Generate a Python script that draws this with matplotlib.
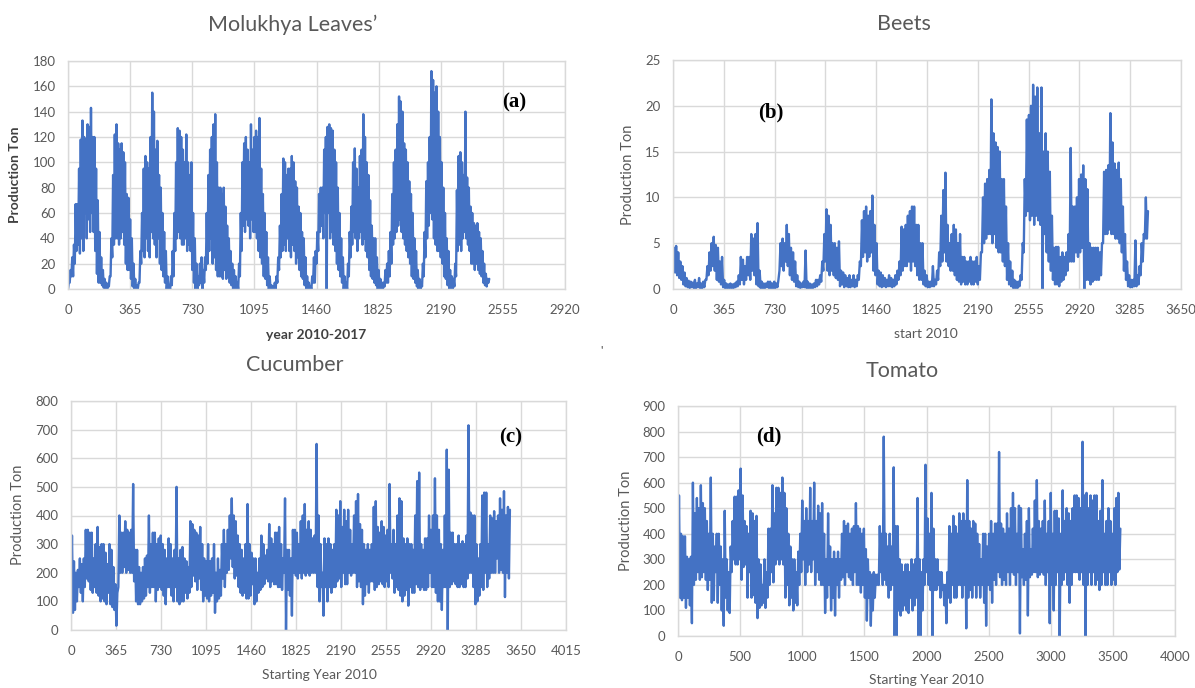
import numpy as np
import matplotlib
matplotlib.use("Agg")
import matplotlib.pyplot as plt

plt.rcParams['font.family'] = ['Lato', 'DejaVu Sans']

# ---------------- data ----------------
# Each daily series is given as local highs and lows, one pair per step (days).
# (a) Molukhya Leaves'
molukhya_step = 10
molukhya_hi = [
    5, 15, 25, 35, 67, 67, 95, 118, 133, 120,
    118, 130, 128, 143, 120, 120, 95, 70, 45, 25,
    15, 8, 5, 3, 10, 40, 90, 122, 130, 115,
    110, 115, 108, 100, 75, 72, 55, 40, 20, 8,
    3, 5, 30, 60, 95, 105, 100, 95, 120, 155,
    140, 110, 117, 90, 80, 60, 45, 30, 10, 3,
    10, 30, 60, 100, 127, 125, 120, 110, 100, 122,
    100, 90, 100, 60, 40, 20, 10, 20, 25, 15,
    25, 60, 90, 110, 120, 130, 138, 100, 80, 80,
    75, 80, 65, 50, 40, 30, 20, 15, 10, 5,
    20, 60, 100, 115, 120, 110, 100, 130, 110, 120,
    125, 120, 135, 95, 75, 60, 45, 25, 10, 3,
    2, 5, 10, 25, 50, 75, 103, 100, 90, 95,
    95, 105, 100, 85, 80, 65, 60, 45, 40, 25,
    10, 5, 2, 10, 25, 30, 45, 75, 80, 80,
    110, 120, 128, 130, 127, 125, 110, 100, 80, 60,
    40, 25, 10, 5, 20, 45, 65, 100, 111, 95,
    80, 105, 110, 138, 120, 100, 90, 70, 50, 40,
    40, 25, 15, 8, 5, 5, 15, 20, 30, 45,
    75, 100, 110, 130, 152, 148, 140, 115, 110, 100,
    85, 75, 60, 40, 30, 15, 8, 5, 20, 45,
    85, 100, 120, 172, 165, 155, 160, 140, 120, 100,
    80, 60, 40, 30, 15, 10, 8, 20, 78, 105,
    108, 100, 90, 140, 88, 80, 65, 60, 52, 50,
    52, 45, 40, 30, 20, 12, 8, 8,
]
molukhya_lo = [
    0, 5, 10, 10, 20, 30, 35, 28, 40, 30,
    60, 40, 55, 45, 60, 45, 30, 12, 5, 5,
    3, 1, 0, 0, 2, 10, 25, 35, 40, 40,
    35, 40, 45, 35, 20, 15, 15, 8, 2, 0,
    0, 0, 5, 20, 30, 25, 40, 30, 25, 45,
    40, 35, 25, 40, 20, 15, 10, 5, 0, 0,
    0, 3, 10, 30, 40, 45, 40, 35, 35, 40,
    30, 35, 30, 15, 5, 0, 0, 3, 5, 0,
    5, 15, 20, 30, 40, 20, 25, 15, 10, 10,
    10, 8, 15, 8, 10, 5, 3, 0, 0, 0,
    0, 10, 30, 50, 45, 55, 50, 40, 55, 45,
    45, 40, 30, 25, 20, 10, 8, 3, 0, 0,
    0, 0, 0, 5, 15, 25, 30, 35, 30, 40,
    30, 25, 35, 30, 20, 25, 15, 10, 8, 3,
    0, 0, 0, 0, 5, 5, 20, 30, 45, 50,
    40, 60, 0, 60, 40, 45, 35, 30, 20, 15,
    10, 5, 0, 0, 0, 10, 25, 35, 45, 40,
    30, 40, 45, 35, 40, 30, 25, 15, 10, 8,
    5, 3, 0, 0, 0, 0, 2, 5, 5, 10,
    20, 35, 40, 45, 50, 55, 45, 40, 35, 30,
    25, 20, 10, 8, 5, 2, 0, 0, 2, 10,
    25, 40, 50, 60, 55, 40, 35, 30, 30, 25,
    20, 10, 8, 3, 0, 0, 0, 2, 10, 30,
    35, 30, 40, 45, 40, 35, 30, 20, 20, 15,
    20, 15, 12, 10, 5, 3, 2, 5,
]

# (b) Beets
beets_step = 15
beets_hi = [
    4.5, 4.7, 4.0, 3.0, 2.5, 1.8, 1.2, 0.9,
    0.8, 0.7, 1.0, 0.6, 1.2, 0.6, 0.8, 1.0,
    2.5, 4.0, 5.0, 5.7, 4.8, 4.5, 3.0, 3.5,
    1.0, 0.6, 0.5, 0.6, 0.5, 0.6, 0.8, 1.5,
    3.5, 3.2, 2.5, 3.5, 3.5, 6.0, 5.5, 6.0,
    7.2, 2.0, 0.8, 0.6, 0.6, 0.8, 0.8, 0.6,
    0.8, 0.6, 1.0, 5.0, 5.5, 5.0, 7.0, 6.0,
    4.5, 4.0, 3.0, 1.5, 0.8, 0.6, 0.8, 4.2,
    0.8, 0.6, 0.5, 0.6, 1.0, 1.0, 1.5, 3.0,
    6.0, 8.7, 8.0, 7.0, 5.0, 5.0, 4.5, 5.2,
    2.0, 1.8, 1.5, 1.2, 1.5, 1.0, 1.5, 1.0,
    1.5, 3.0, 7.5, 8.5, 9.0, 8.0, 8.5, 10.2,
    7.0, 5.0, 2.0, 1.8, 1.5, 1.2, 1.0, 1.5,
    1.2, 1.0, 1.5, 2.0, 3.0, 6.8, 6.5, 7.0,
    8.0, 8.5, 9.0, 9.0, 7.0, 7.0, 5.0, 5.0,
    2.0, 1.5, 0.8, 0.8, 2.5, 1.0, 2.0, 4.0,
    8.0, 10.8, 12.7, 7.0, 5.0, 6.0, 7.0, 6.5,
    5.0, 6.0, 3.5, 3.5, 3.0, 3.0, 3.5, 3.0,
    3.0, 3.5, 2.5, 4.0, 10.0, 11.5, 12.0, 13.0,
    20.7, 17.0, 16.0, 15.5, 15.0, 12.0, 12.0, 9.0,
    5.0, 3.0, 2.0, 1.0, 0.8, 0.8, 1.5, 5.0,
    12.0, 18.5, 19.0, 20.0, 22.3, 21.0, 22.0, 17.0,
    22.0, 15.0, 17.0, 15.0, 12.8, 8.0, 4.5, 4.6,
    4.6, 3.5, 4.0, 3.5, 4.0, 6.0, 15.4, 9.0,
    9.0, 10.0, 12.0, 12.5, 13.5, 12.0, 10.9, 5.0,
    4.5, 4.5, 4.5, 4.5, 4.0, 5.0, 12.8, 13.0,
    13.5, 19.2, 16.0, 13.7, 13.0, 13.8, 12.0, 9.0,
    6.0, 3.0, 1.5, 1.0, 1.0, 5.3, 1.5, 2.5,
    5.0, 6.0, 10.0, 8.5,
]
beets_lo = [
    2.0, 1.8, 1.5, 1.2, 1.0, 0.5, 0.3, 0.2,
    0.1, 0.2, 0.1, 0.1, 0.2, 0.1, 0.1, 0.2,
    1.0, 1.5, 2.0, 2.5, 2.0, 1.0, 0.8, 0.5,
    0.2, 0.1, 0.1, 0.1, 0.1, 0.1, 0.2, 0.3,
    0.5, 1.0, 0.5, 1.0, 1.5, 1.0, 2.0, 1.5,
    0.5, 0.3, 0.1, 0.1, 0.1, 0.2, 0.1, 0.1,
    0.1, 0.1, 0.2, 2.0, 2.5, 2.0, 3.0, 2.5,
    1.5, 1.0, 0.8, 0.3, 0.2, 0.1, 0.2, 0.2,
    0.1, 0.1, 0.1, 0.1, 0.2, 0.3, 0.5, 0.8,
    2.0, 3.0, 2.0, 1.5, 2.0, 1.5, 1.2, 1.0,
    0.3, 0.5, 0.2, 0.3, 0.2, 0.2, 0.3, 0.2,
    0.3, 1.0, 2.5, 3.5, 4.0, 3.0, 3.5, 4.0,
    2.0, 1.5, 0.5, 0.3, 0.2, 0.3, 0.2, 0.3,
    0.3, 0.2, 0.3, 0.5, 1.0, 1.5, 2.0, 2.5,
    2.5, 3.0, 2.0, 3.0, 2.5, 1.5, 1.0, 1.0,
    0.5, 0.3, 0.2, 0.2, 0.3, 0.3, 0.5, 1.0,
    2.5, 3.0, 4.0, 3.0, 2.5, 2.0, 2.0, 1.5,
    1.0, 0.8, 0.5, 0.8, 0.5, 0.5, 0.8, 0.5,
    0.5, 0.8, 0.5, 1.0, 4.0, 5.0, 5.5, 6.0,
    6.0, 5.0, 6.0, 4.5, 4.0, 4.0, 3.0, 2.5,
    1.0, 0.5, 0.3, 0.1, 0.1, 0.1, 0.3, 1.0,
    4.0, 8.0, 8.5, 7.5, 8.0, 7.0, 8.0, 7.5,
    7.0, 0.0, 6.0, 4.0, 3.0, 2.0, 1.0, 0.5,
    0.5, 0.3, 0.8, 1.0, 1.5, 2.0, 3.0, 3.0,
    3.0, 4.0, 3.5, 4.0, 4.5, 0.0, 1.0, 1.0,
    0.5, 0.8, 1.0, 1.0, 1.0, 1.5, 5.0, 6.0,
    6.0, 6.5, 6.0, 6.0, 5.5, 5.5, 5.0, 4.0,
    2.0, 1.0, 0.3, 0.2, 0.2, 0.3, 0.3, 0.5,
    1.5, 3.0, 5.5, 5.5,
]

# (c) Cucumber
cucumber_step = 16
cucumber_hi = [
    330, 240, 200, 210, 250, 230, 250, 350, 350, 340,
    340, 250, 300, 360, 290, 300, 300, 270, 230, 300,
    280, 220, 160, 130, 400, 340, 340, 380, 350, 340,
    350, 510, 280, 280, 220, 200, 220, 250, 260, 400,
    300, 340, 340, 300, 320, 330, 300, 280, 250, 320,
    300, 250, 280, 500, 250, 280, 290, 250, 240, 220,
    380, 370, 350, 340, 330, 360, 300, 250, 240, 300,
    240, 250, 300, 200, 250, 210, 300, 350, 300, 350,
    400, 460, 400, 380, 330, 300, 280, 250, 300, 440,
    300, 270, 250, 250, 200, 250, 330, 300, 260, 280,
    370, 320, 300, 340, 340, 360, 300, 250, 460, 280,
    280, 250, 350, 350, 340, 300, 380, 400, 440, 350,
    380, 350, 320, 330, 650, 400, 300, 200, 320, 300,
    320, 300, 280, 300, 420, 400, 450, 360, 420, 380,
    420, 350, 300, 400, 450, 475, 370, 350, 300, 280,
    300, 280, 300, 430, 450, 360, 340, 380, 360, 330,
    350, 510, 300, 350, 300, 400, 460, 450, 320, 300,
    320, 300, 300, 280, 400, 520, 550, 300, 280, 320,
    320, 400, 350, 400, 530, 400, 350, 300, 280, 400,
    630, 560, 340, 340, 300, 300, 330, 300, 310, 300,
    330, 715, 410, 400, 400, 300, 250, 300, 470, 480,
    480, 300, 400, 390, 415, 380, 400, 460, 420, 485,
    400, 430, 420,
]
cucumber_lo = [
    120, 60, 70, 100, 150, 130, 100, 150, 180, 170,
    140, 130, 150, 130, 120, 100, 110, 100, 90, 130,
    90, 80, 70, 15, 150, 200, 200, 220, 200, 210,
    200, 200, 170, 100, 90, 90, 100, 110, 120, 150,
    130, 150, 150, 100, 140, 150, 140, 120, 90, 150,
    150, 120, 100, 150, 100, 90, 100, 100, 130, 110,
    130, 150, 190, 170, 140, 180, 140, 100, 120, 110,
    100, 120, 130, 60, 100, 110, 120, 180, 150, 200,
    210, 250, 220, 180, 190, 150, 130, 120, 130, 110,
    110, 120, 160, 90, 100, 130, 140, 150, 160, 180,
    170, 150, 170, 160, 160, 150, 150, 140, 200, 0,
    140, 120, 50, 200, 190, 180, 200, 180, 200, 190,
    200, 190, 200, 200, 200, 150, 100, 150, 50, 150,
    100, 150, 130, 150, 150, 170, 180, 150, 200, 160,
    160, 200, 190, 200, 200, 150, 170, 150, 90, 120,
    160, 130, 170, 170, 140, 150, 160, 170, 160, 150,
    170, 150, 200, 180, 130, 150, 140, 120, 100, 120,
    140, 85, 150, 130, 130, 160, 150, 140, 150, 140,
    140, 150, 200, 150, 150, 130, 100, 100, 70, 150,
    150, 0, 150, 160, 170, 160, 150, 150, 160, 150,
    150, 180, 200, 200, 150, 90, 100, 120, 150, 140,
    200, 150, 180, 200, 200, 200, 250, 200, 210, 200,
    115, 200, 180,
]

# (d) Tomato
tomato_step = 16
tomato_hi = [
    550, 400, 390, 390, 310, 300, 310, 600, 480, 540,
    500, 590, 520, 500, 450, 400, 620, 400, 350, 400,
    400, 350, 300, 490, 300, 250, 350, 450, 545, 545,
    570, 655, 550, 450, 430, 400, 490, 480, 450, 470,
    300, 280, 200, 300, 250, 420, 420, 590, 480, 580,
    580, 560, 620, 560, 500, 400, 350, 300, 300, 250,
    330, 400, 530, 450, 500, 450, 580, 450, 600, 450,
    510, 480, 520, 400, 300, 480, 350, 300, 330, 300,
    330, 300, 400, 450, 430, 440, 400, 420, 430, 520,
    430, 420, 400, 420, 340, 300, 250, 240, 250, 240,
    240, 430, 400, 780, 400, 350, 400, 350, 660, 430,
    430, 300, 280, 250, 280, 280, 250, 300, 280, 300,
    540, 300, 250, 300, 670, 460, 400, 560, 420, 300,
    300, 250, 250, 200, 200, 250, 430, 400, 470, 430,
    400, 480, 450, 480, 450, 610, 450, 420, 450, 440,
    400, 360, 300, 400, 400, 350, 400, 450, 400, 440,
    440, 720, 440, 420, 400, 480, 420, 500, 560, 500,
    400, 510, 500, 340, 400, 450, 500, 340, 420, 530,
    610, 450, 420, 450, 530, 400, 450, 560, 400, 490,
    490, 460, 400, 570, 450, 500, 480, 450, 500, 550,
    550, 540, 500, 760, 550, 560, 500, 550, 530, 550,
    550, 450, 490, 610, 400, 450, 500, 450, 400, 500,
    540, 560, 420,
]
tomato_lo = [
    150, 150, 140, 150, 110, 150, 120, 50, 200, 220,
    250, 220, 230, 250, 220, 180, 220, 130, 140, 250,
    130, 200, 100, 40, 150, 100, 90, 250, 300, 280,
    280, 300, 220, 270, 280, 150, 250, 150, 160, 130,
    70, 110, 120, 130, 110, 150, 200, 250, 210, 280,
    300, 280, 300, 280, 150, 200, 120, 150, 100, 130,
    120, 200, 250, 300, 200, 250, 280, 250, 300, 200,
    250, 220, 200, 200, 90, 150, 200, 100, 150, 80,
    200, 150, 220, 230, 200, 250, 230, 220, 200, 250,
    200, 200, 170, 200, 150, 60, 150, 40, 100, 150,
    200, 200, 250, 200, 220, 200, 150, 180, 200, 0,
    0, 100, 80, 100, 120, 100, 90, 150, 100, 120,
    150, 0, 0, 100, 200, 250, 200, 180, 0, 180,
    180, 200, 150, 180, 120, 50, 150, 130, 200, 150,
    150, 200, 200, 150, 200, 30, 150, 180, 150, 200,
    150, 200, 150, 200, 130, 40, 200, 180, 130, 220,
    200, 250, 230, 200, 220, 200, 250, 200, 250, 240,
    200, 250, 10, 230, 200, 220, 80, 230, 240, 250,
    250, 230, 240, 250, 240, 200, 250, 50, 200, 100,
    200, 250, 0, 200, 220, 250, 200, 130, 200, 250,
    250, 250, 220, 250, 200, 0, 200, 250, 200, 250,
    200, 220, 180, 200, 250, 200, 200, 250, 200, 220,
    200, 250, 260,
]

titles = ["Molukhya Leaves\u2019", "Beets", "Cucumber", "Tomato"]
xlabels = ["year 2010-2017", "start 2010", "Starting Year 2010", "Starting Year 2010"]
panel_tags = ["(a)", "(b)", "(c)", "(d)"]
xticks_a = [0, 365, 730, 1095, 1460, 1825, 2190, 2555, 2920]
xticks_b = [0, 365, 730, 1095, 1460, 1825, 2190, 2555, 2920, 3285, 3650]
xticks_c = [0, 365, 730, 1095, 1460, 1825, 2190, 2555, 2920, 3285, 3650, 4015]
xticks_d = [0, 500, 1000, 1500, 2000, 2500, 3000, 3500, 4000]
yticks_a = [0, 20, 40, 60, 80, 100, 120, 140, 160, 180]
yticks_b = [0, 5, 10, 15, 20, 25]
yticks_c = [0, 100, 200, 300, 400, 500, 600, 700, 800]
yticks_d = [0, 100, 200, 300, 400, 500, 600, 700, 800, 900]
tag_pos = [(2620, 147), (704, 19.3), (3569, 674), (734, 779)]

# ---------------- layout ----------------
W, H = 1195, 688
fig = plt.figure(figsize=(W / 100, H / 100), dpi=100)
fig.patch.set_facecolor("white")

def px_axes(left, top, right, bottom):
    return fig.add_axes([left / W, 1 - bottom / H, (right - left) / W, (bottom - top) / H])

def interleave(lo, hi, step):
    n = min(len(lo), len(hi))
    x = np.empty(2 * n)
    y = np.empty(2 * n)
    base = np.arange(n) * step
    x[0::2] = base
    x[1::2] = base + step / 2.0
    y[0::2] = lo[:n]
    y[1::2] = hi[:n]
    return x, y

BLUE = "#4472C4"
GRID = "#d9d9d9"
TXT = "#595959"

boxes = [(68, 61, 565, 289), (673, 60, 1181, 289), (71, 401, 566, 630), (678, 406, 1175, 636)]
series = [(molukhya_lo, molukhya_hi, molukhya_step), (beets_lo, beets_hi, beets_step),
          (cucumber_lo, cucumber_hi, cucumber_step), (tomato_lo, tomato_hi, tomato_step)]
xticks = [xticks_a, xticks_b, xticks_c, xticks_d]
yticks = [yticks_a, yticks_b, yticks_c, yticks_d]
title_px = [(293, 25), (904, 24), (295, 365), (902, 371)]
xlabel_px = [(316, 335), (926, 334), (319, 675), (926, 680)]
ylabel_px = [(15, 175), (628, 175), (18, 515), (626, 521)]
bold_labels = [True, False, False, False]

for i in range(4):
    ax = px_axes(*boxes[i])
    lo, hi, step = series[i]
    x, y = interleave(lo, hi, step)
    ax.plot(x, y, color=BLUE, lw=1.7, solid_joinstyle="round", solid_capstyle="round")
    ax.set_xlim(xticks[i][0], xticks[i][-1])
    ax.set_ylim(yticks[i][0], yticks[i][-1])
    ax.set_xticks(xticks[i])
    ax.set_yticks(yticks[i])
    ax.set_xticklabels([str(t) for t in xticks[i]])
    ax.set_yticklabels([str(t) for t in yticks[i]])
    ax.tick_params(length=0, labelsize=9.5, labelcolor=TXT)
    ax.tick_params(axis="x", pad=11)
    ax.tick_params(axis="y", pad=9)
    ax.grid(True, color=GRID, lw=1.0)
    ax.set_axisbelow(True)
    for sp in ax.spines.values():
        sp.set_color(GRID)
        sp.set_linewidth(1.0)
    ax.text(tag_pos[i][0], tag_pos[i][1], panel_tags[i], fontsize=15, fontweight="bold",
            family=["Liberation Serif", "DejaVu Serif"], color="black", ha="center", va="center")

    tx, ty = title_px[i]
    fig.text(tx / W, 1 - ty / H, titles[i], fontsize=15.5, color=TXT, ha="center", va="center")
    lx, ly = xlabel_px[i]
    fig.text(lx / W, 1 - ly / H, xlabels[i], fontsize=10, color=TXT if not bold_labels[i] else "#404040",
             fontweight="bold" if bold_labels[i] else "normal", ha="center", va="center")
    yx, yy = ylabel_px[i]
    fig.text(yx / W, 1 - yy / H, "Production Ton", fontsize=10.5 if not bold_labels[i] else 10,
             color=TXT if not bold_labels[i] else "#404040",
             fontweight="bold" if bold_labels[i] else "normal",
             rotation=90, ha="center", va="center")

fig.text(601 / W, 1 - 350 / H, "'", fontsize=8, color="#333333", ha="center", va="center")

fig.savefig("out.png", dpi=100, facecolor="white")
